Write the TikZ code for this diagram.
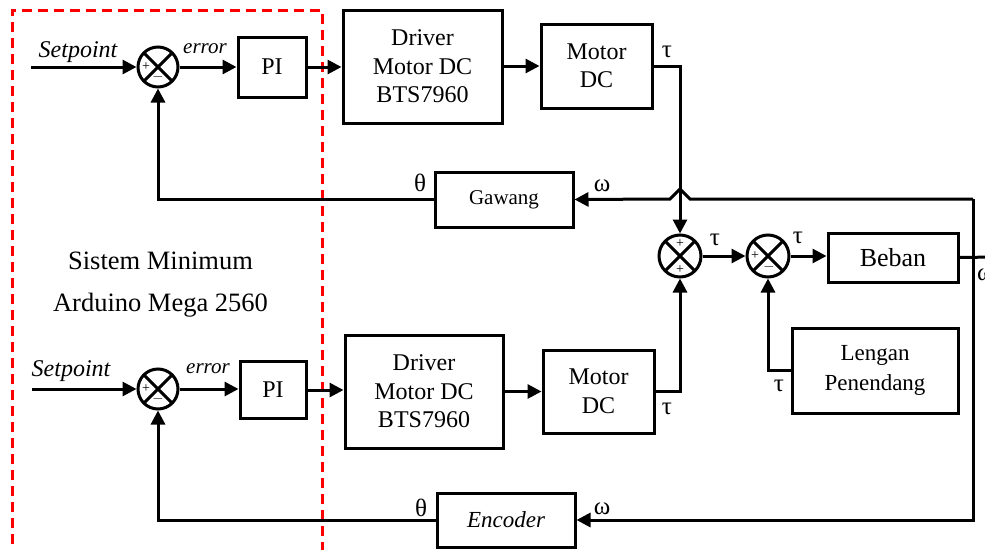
\documentclass[tikz,border=0pt]{standalone}
\usepackage{fontspec}
\setmainfont{Liberation Serif}
\usetikzlibrary{arrows.meta}
\definecolor{dashred}{RGB}{250,0,0}
\begin{document}
\begin{tikzpicture}[x=1pt,y=-1pt,
  blk/.style={draw, line width=3pt, inner sep=0pt, align=center, font=\fontsize{24}{28.5}\selectfont},
  sumj/.style={draw, circle, line width=3pt, minimum size=40pt, inner sep=0pt,
    path picture={\draw[line width=3pt] (path picture bounding box.north west) -- (path picture bounding box.south east)
      (path picture bounding box.north east) -- (path picture bounding box.south west);}},
  conn/.style={line width=3pt},
  arr/.style={conn, -{Triangle[length=14pt,width=14pt]}},
  sgn/.style={font=\fontsize{14}{14}\selectfont, inner sep=0pt},
  lbl/.style={font=\fontsize{25}{25}\selectfont, inner sep=0pt},
  itl/.style={font=\fontsize{24}{24}\selectfont\itshape, inner sep=0pt, anchor=base},
  ite/.style={font=\fontsize{21}{21}\selectfont\itshape, inner sep=0pt, anchor=base},
  reddash/.style={draw=dashred, line width=3pt, dash pattern=on 10pt off 6pt}
]
\useasboundingbox (0,0) rectangle (985,549);

% red dashed frame
\draw[reddash] (12,560) -- (12,10) -- (322,10) -- (322,560);

% top row
\node[sumj] (s1) at (158,67) {};
\node[blk, minimum width=68pt, minimum height=60pt] (pi1) at (272,67) {PI};
\node[blk, minimum width=159pt, minimum height=113pt] (d1) at (422.5,66.5) {Driver\\Motor DC\\BTS7960};
\node[blk, minimum width=111pt, minimum height=84pt] (m1) at (596.5,66) {Motor\\DC};

% bottom row
\node[sumj] (s4) at (158,389) {};
\node[blk, minimum width=66pt, minimum height=57pt] (pi2) at (273,390) {PI};
\node[blk, minimum width=158pt, minimum height=113pt] (d2) at (424,391.5) {Driver\\Motor DC\\BTS7960};
\node[blk, minimum width=111pt, minimum height=83pt] (m2) at (598.5,391.5) {Motor\\DC};

% middle
\node[blk, minimum width=138pt, minimum height=55pt, font=\fontsize{21}{21}\selectfont] (gaw) at (504,199.5) {Gawang};
\node[sumj, minimum size=42pt] (s2) at (680,256) {};
\node[sumj, minimum size=42pt] (s3) at (768,256) {};
\node[blk, minimum width=130pt, minimum height=49pt, font=\fontsize{26}{26}\selectfont] (beb) at (893,257.5) {Beban};
\node[blk, minimum width=166pt, minimum height=85pt, font=\fontsize{23}{30}\selectfont] (len) at (875,370.5) {Lengan\\Penendang};
\node[blk, minimum width=138pt, minimum height=54pt, font=\fontsize{23}{23}\selectfont\itshape] (enc) at (506,520) {Encoder};

% signs
\node[sgn] (s1p) at (146,67) {+};
\node[sgn] (s1m) at (158,77) {$-$};
\node[sgn] (s4p) at (146,389) {+};
\node[sgn] (s4m) at (158,399) {$-$};
\node[sgn] (s2t) at (680,244) {+};
\node[sgn] (s2b) at (680,270) {+};
\node[sgn] (s3p) at (755,256) {+};
\node[sgn] (s3m) at (769,267) {$-$};

% coordinates
\coordinate (sp1) at (31,67);
\coordinate (sp2) at (32,389);
\coordinate (tr) at (973,199);
\coordinate (hr) at (690,199);
\coordinate (ht) at (680,189);
\coordinate (hl) at (670,199);
\coordinate (bout) at (995,257);

% connectors top
\draw[arr] (sp1) -- (s1.west);
\draw[arr] (s1.east) -- (pi1.west |- s1.east);
\draw[arr] (pi1.east) -- (d1.west |- pi1.east);
\draw[arr] (d1.east |- m1.west) -- (m1.west);
\draw[arr] (m1.east) -| (s2.north);

% connectors bottom
\draw[arr] (sp2) -- (s4.west);
\draw[arr] (s4.east) -- (pi2.west |- s4.east);
\draw[arr] (pi2.east) -- (d2.west |- pi2.east);
\draw[arr] (d2.east |- m2.west) -- (m2.west);
\draw[arr] (m2.east) -| (s2.south);

% middle connectors
\draw[arr] (s2.east) -- (s3.west);
\draw[arr] (s3.east) -- (beb.west |- s3.east);
\draw[conn] (beb.east) -- (bout);
\draw[arr] (len.west) -| (s3.south);
\draw[arr] (tr) -- (hr) -- (ht) -- (hl) -- (gaw.east);
\draw[arr] (tr) |- (enc.east);
\draw[arr] (gaw.west) -| (s1.south);
\draw[arr] (enc.west) -| (s4.south);

% labels
\node[itl] (lsp1) at (78,57) {Setpoint};
\node[ite] (ler1) at (205,53) {error};
\node[itl] (lsp2) at (71,376) {Setpoint};
\node[ite] (ler2) at (208,373) {error};
\node[lbl] (t1) at (667,52) {τ};
\node[lbl] (t2) at (667,409) {τ};
\node[lbl] (t3) at (715,240) {τ};
\node[lbl] (t4) at (798,238) {τ};
\node[lbl] (t5) at (779,386) {τ};
\node[lbl] (th1) at (420,183) {θ};
\node[lbl] (om1) at (602,186) {ω};
\node[lbl] (th2) at (421,508) {θ};
\node[lbl] (om2) at (602,509) {ω};
\node[lbl, anchor=west] (om3) at (977,275) {ω};

\node[font=\fontsize{26.5}{26.5}\selectfont, inner sep=0pt] (sys1) at (160.5,261) {Sistem Minimum};
\node[font=\fontsize{26.5}{26.5}\selectfont, inner sep=0pt] (sys2) at (160.5,305) {Arduino Mega 2560};
\end{tikzpicture}
\end{document}
